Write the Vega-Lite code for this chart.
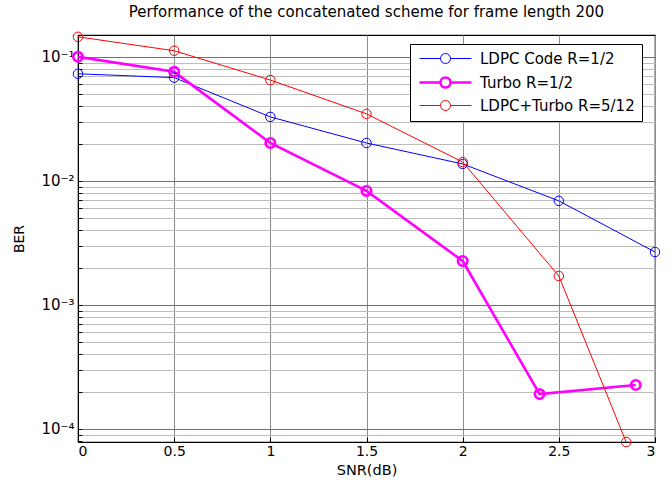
{
  "$schema": "https://vega.github.io/schema/vega-lite/v6.json",
  "width": 577,
  "height": 407,
  "autosize": {"type": "none"},
  "padding": {"left": 78, "top": 35, "right": 17, "bottom": 41},
  "background": "white",
  "title": {
    "text": "Performance of the concatenated scheme for frame length 200",
    "fontSize": 15,
    "font": "DejaVu Sans",
    "fontWeight": "normal",
    "color": "black",
    "anchor": "middle",
    "offset": 10
  },
  "config": {
    "view": {"stroke": "black", "strokeWidth": 1.2},
    "font": "DejaVu Sans",
    "legend": {
      "orient": "none",
      "legendX": 332,
      "legendY": 9,
      "title": null,
      "padding": 7,
      "strokeColor": "black",
      "fillColor": "white",
      "labelFont": "DejaVu Sans",
      "labelFontSize": 15,
      "labelColor": "black",
      "symbolType": "M-5.2,0L-1,0M1,0L5.2,0M1,0A1,1,0,1,1,-1,0A1,1,0,1,1,1,0",
      "symbolSize": 100,
      "symbolFillColor": "transparent",
      "symbolOffset": 21,
      "labelOffset": 27,
      "rowPadding": 5
    }
  },
  "data": {
    "values": [
      {"snr": 0, "ber": 0.073, "series": "LDPC Code R=1/2"},
      {"snr": 0.5, "ber": 0.068, "series": "LDPC Code R=1/2"},
      {"snr": 1, "ber": 0.0328, "series": "LDPC Code R=1/2"},
      {"snr": 1.5, "ber": 0.0202, "series": "LDPC Code R=1/2"},
      {"snr": 2, "ber": 0.0137, "series": "LDPC Code R=1/2"},
      {"snr": 2.5, "ber": 0.0069, "series": "LDPC Code R=1/2"},
      {"snr": 3, "ber": 0.00267, "series": "LDPC Code R=1/2"},
      {"snr": 0, "ber": 0.1, "series": "Turbo R=1/2"},
      {"snr": 0.5, "ber": 0.0757, "series": "Turbo R=1/2"},
      {"snr": 1, "ber": 0.0202, "series": "Turbo R=1/2"},
      {"snr": 1.5, "ber": 0.0083, "series": "Turbo R=1/2"},
      {"snr": 2, "ber": 0.00226, "series": "Turbo R=1/2"},
      {"snr": 2.4, "ber": 0.000191, "series": "Turbo R=1/2"},
      {"snr": 2.9, "ber": 0.000226, "series": "Turbo R=1/2"},
      {"snr": 0, "ber": 0.145, "series": "LDPC+Turbo R=5/12"},
      {"snr": 0.5, "ber": 0.112, "series": "LDPC+Turbo R=5/12"},
      {"snr": 1, "ber": 0.065, "series": "LDPC+Turbo R=5/12"},
      {"snr": 1.5, "ber": 0.0347, "series": "LDPC+Turbo R=5/12"},
      {"snr": 2, "ber": 0.0142, "series": "LDPC+Turbo R=5/12"},
      {"snr": 2.5, "ber": 0.00171, "series": "LDPC+Turbo R=5/12"},
      {"snr": 2.85, "ber": 0.0000785, "series": "LDPC+Turbo R=5/12"}
    ]
  },
  "encoding": {
    "x": {
      "field": "snr",
      "type": "quantitative",
      "scale": {"domain": [0, 3], "nice": false, "zero": false},
      "axis": {
        "title": "SNR(dB)",
        "titleFontSize": 14.5,
        "titleFontWeight": "normal",
        "titleColor": "black",
        "titlePadding": 5,
        "values": [0, 0.5, 1, 1.5, 2, 2.5, 3],
        "format": "~g",
        "labelFontSize": 14,
        "labelColor": "black",
        "labelPadding": 7,
        "domainColor": "black",
        "tickColor": "black",
        "tickSize": -5,
        "gridColor": "#8c8c8c",
        "gridWidth": 1
      }
    },
    "y": {
      "field": "ber",
      "type": "quantitative",
      "scale": {"type": "log", "domain": [0.0000785, 0.15], "nice": false},
      "axis": {
        "title": "BER",
        "titleFontSize": 14,
        "titleFontWeight": "normal",
        "titleColor": "black",
        "titlePadding": 14,
        "values": [0.00008, 0.00009, 0.0001, 0.0002, 0.0003, 0.0004, 0.0005, 0.0006, 0.0007, 0.0008, 0.0009, 0.001, 0.002, 0.003, 0.004, 0.005, 0.006, 0.007, 0.008, 0.009, 0.01, 0.02, 0.03, 0.04, 0.05, 0.06, 0.07, 0.08, 0.09, 0.1],
        "labelExpr": "datum.value == 0.1 ? '10⁻¹' : datum.value == 0.01 ? '10⁻²' : datum.value == 0.001 ? '10⁻³' : datum.value == 0.0001 ? '10⁻⁴' : ''",
        "labelFontSize": 15,
        "labelColor": "black",
        "labelPadding": 8,
        "domainColor": "black",
        "tickColor": "black",
        "tickSize": -4,
        "gridColor": {"condition": {"test": "datum.value == 0.1 || datum.value == 0.01 || datum.value == 0.001 || datum.value == 0.0001", "value": "#707070"}, "value": "#bdbdbd"},
        "gridWidth": 1
      }
    },
    "color": {
      "field": "series",
      "type": "nominal",
      "scale": {"domain": ["LDPC Code R=1/2", "Turbo R=1/2", "LDPC+Turbo R=5/12"], "range": ["#0000ff", "#ff00ff", "#ff0000"]},
      "legend": {
        "title": null,
        "symbolStrokeWidth": 1,
        "encode": {"symbols": {"update": {"strokeWidth": {"signal": "datum.label == 'Turbo R=1/2' ? 2.6 : 1"}}}}
      }
    },
    "strokeWidth": {
      "condition": {"test": "datum.series == 'Turbo R=1/2'", "value": 2.6},
      "value": 1
    }
  },
  "layer": [
    {"mark": {"type": "line"}},
    {"mark": {"type": "point", "filled": false, "size": 90, "opacity": 1, "clip": false}}
  ]
}
